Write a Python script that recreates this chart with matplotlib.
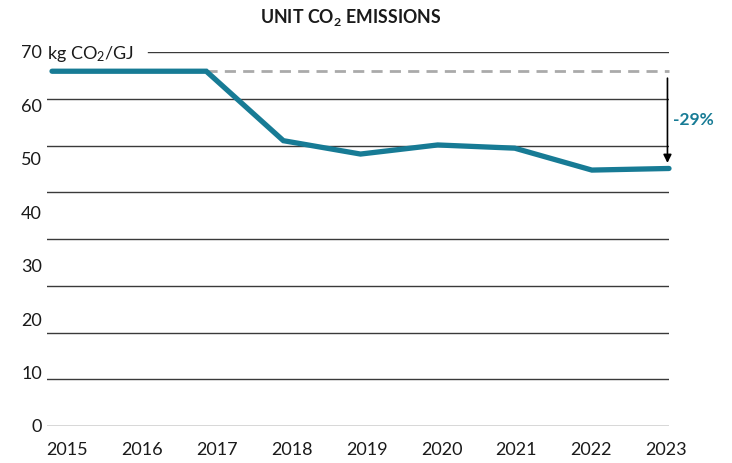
import matplotlib
matplotlib.use('Agg')
import matplotlib.pyplot as plt
import numpy as np

plt.rcParams['font.family'] = ['Lato', 'DejaVu Sans']
plt.rcParams['mathtext.fontset'] = 'custom'
plt.rcParams['mathtext.rm'] = 'Lato'
plt.rcParams['mathtext.bf'] = 'Lato:bold'
plt.rcParams['mathtext.default'] = 'regular'

# 数据
years = [2015, 2016, 2017, 2018, 2019, 2020, 2021, 2022, 2023]
emissions = [66.4, 66.4, 66.4, 53.4, 50.9, 52.6, 52.0, 47.9, 48.2]
y_labels = [0, 10, 20, 30, 40, 50, 60, 70]
change_text = '-29%'

teal = '#177b95'

fig = plt.figure(figsize=(7.32, 4.63), dpi=100)
ax = fig.add_axes([47 / 732, 37 / 463, 622 / 732, 374 / 463])

ax.set_xlim(2014.935, 2023.0)
ax.set_ylim(0, 70)

# 网格线（原图是8等分）
grid_pos = np.linspace(0, 70, 9)
for i, g in enumerate(grid_pos):
    xmin = 0.162 if i == len(grid_pos) - 1 else 0.0
    ax.axhline(g, xmin=xmin, xmax=1, color='#3a3a3a', lw=1.0, zorder=1)

# 基准虚线
ax.plot([years[2], years[-1]], [emissions[0], emissions[0]], color='#aaaaaa',
        lw=2.0, ls=(0, (4, 2.6)), zorder=2, clip_on=False)

# 主线
ax.plot(years, emissions, color=teal, lw=3.8, solid_capstyle='round',
        solid_joinstyle='miter', zorder=3, clip_on=False)

# 箭头和百分比
ax.annotate('', xy=(years[-1] - 0.02, emissions[-1]), xytext=(years[-1] - 0.02, emissions[0]),
            arrowprops=dict(arrowstyle='-|>', color='black', lw=1.2, shrinkA=5, shrinkB=4,
                            mutation_scale=12), zorder=4, annotation_clip=False)
ax.annotate(change_text, xy=(years[-1], (emissions[0] + emissions[-1]) / 2),
            xytext=(3, 0), textcoords='offset points', ha='left', va='center',
            color=teal, fontsize=12.5, fontweight='bold', annotation_clip=False)

# 刻度
ax.set_yticks(y_labels)
ax.set_yticklabels([str(v) for v in y_labels], fontsize=13, color='#1a1a1a')
ax.set_xticks(np.linspace(2015.2, 2022.96, len(years)))
ax.set_xticklabels([str(y) for y in years], fontsize=13, color='#1a1a1a')
ax.tick_params(axis='both', length=0)
ax.tick_params(axis='y', pad=3.6)
ax.tick_params(axis='x', pad=11.5)
for s in ax.spines.values():
    s.set_visible(False)

# 单位
ax.text(0.0, 70, 'kg CO$_2$/GJ', transform=ax.get_yaxis_transform(), ha='left',
        va='center_baseline', fontsize=13, color='#1a1a1a')

fig.text(351 / 732, 1 - 18 / 463, 'UNIT CO$_\\mathbf{2}$ EMISSIONS', ha='center', va='center',
         fontsize=12.8, fontweight='bold', color='#1a1a1a')

fig.savefig('out.png', dpi=100)
